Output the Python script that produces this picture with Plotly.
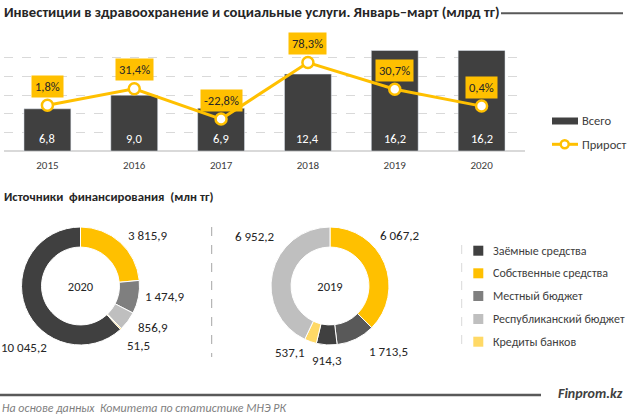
import plotly.graph_objects as go

W, H = 628, 417

# ---------------- data ----------------
years = ["2015", "2016", "2017", "2018", "2019", "2020"]
total_bln = [6.8, 9.0, 6.9, 12.4, 16.2, 16.2]
growth_pct = [1.8, 31.4, -22.8, 78.3, 30.7, 0.4]

legend_labels = ["Заёмные средства", "Собственные средства", "Местный бюджет",
                 "Республиканский бюджет", "Кредиты банков"]

labels_2020 = ["Заёмные средства", "Собственные средства", "Местный бюджет",
               "Республиканский бюджет", "Кредиты банков"]
values_2020 = [10045.2, 3815.9, 1474.9, 856.9, 51.5]

labels_2019 = ["Собственные средства", "Местный бюджет", "Заёмные средства",
               "Кредиты банков", "Республиканский бюджет"]
values_2019 = [6067.2, 1713.5, 914.3, 537.1, 6952.2]

# ---------------- styles ----------------
FONT = "Calibri, Carlito, 'Liberation Sans', Arial, sans-serif"
DARK = "#404040"
YEL = "#FFC000"
TXT = "#262626"
colors = {"Заёмные средства": "#404040", "Собственные средства": "#FFC000",
          "Местный бюджет": "#7F7F7F", "Республиканский бюджет": "#BFBFBF",
          "Кредиты банков": "#FFD966"}
colors_2019 = dict(colors)
colors_2019["Местный бюджет"] = "#595959"


def px_x(x):
    return x / W


def px_y(y):
    return 1 - y / H


def fmt(v):
    return f"{v:,.1f}".replace(",", " ").replace(".", ",")


def label(x, y, text, size, color=DARK, xanchor="left"):
    return dict(x=px_x(x), y=px_y(y), xref="paper", yref="paper", xanchor=xanchor,
                yanchor="middle", text=text, showarrow=False,
                font=dict(size=size, color=color, family=FONT))


fig = go.Figure()

fig.add_trace(go.Bar(x=years, y=total_bln, name="Всего", marker=dict(color=DARK),
                     width=0.54, hoverinfo="skip", showlegend=False))
fig.add_trace(go.Scatter(x=years, y=growth_pct, name="Прирост", yaxis="y2",
                         mode="lines+markers", line=dict(color=YEL, width=3),
                         marker=dict(size=11, color="white", line=dict(color=YEL, width=2.5)),
                         hoverinfo="skip", showlegend=False, cliponaxis=False))

# pies
fig.add_trace(go.Pie(labels=labels_2020, values=values_2020, hole=0.66, sort=False,
                     direction="clockwise",
                     rotation=360 - 360 * values_2020[0] / sum(values_2020),
                     marker=dict(colors=[colors[l] for l in labels_2020],
                                 line=dict(color="white", width=1)),
                     textinfo="none", hoverinfo="skip", showlegend=False,
                     title=dict(text="2020", position="middle center",
                                font=dict(size=12.5, color=TXT, family=FONT)),
                     domain=dict(x=[px_x(21.5), px_x(139.5)], y=[px_y(345), px_y(227)])))
fig.add_trace(go.Pie(labels=labels_2019, values=values_2019, hole=0.66, sort=False,
                     direction="clockwise", rotation=0,
                     marker=dict(colors=[colors_2019[l] for l in labels_2019],
                                 line=dict(color="white", width=1)),
                     textinfo="none", hoverinfo="skip", showlegend=False,
                     title=dict(text="2019", position="middle center",
                                font=dict(size=12.5, color=TXT, family=FONT)),
                     domain=dict(x=[px_x(271), px_x(389)], y=[px_y(345), px_y(227)])))

Y1_MAX = 18.05
ann = []
# bar value labels (x given as category index)
for i, v in enumerate(total_bln):
    ann.append(dict(x=i, y=0, xref="x", yref="y", yshift=13, text=fmt(v),
                    xanchor="center", yanchor="middle",
                    showarrow=False, font=dict(size=12.5, color="white", family=FONT)))
# growth labels
for i, g in enumerate(growth_pct):
    ann.append(dict(x=i, y=g, xref="x", yref="y2", yshift=19, text=fmt(g) + "%",
                    xanchor="center", yanchor="middle",
                    showarrow=False, bgcolor=YEL, borderpad=3,
                    font=dict(size=12.5, color=TXT, family=FONT)))

# donut labels (positions are style)
pos_2020 = [(24, 347), (147.5, 235.7), (164.7, 296.7), (152.5, 327.7), (138.3, 345.7)]
pos_2019 = [(400, 235.7), (388, 351.7), (326.7, 360.7), (290, 352.7), (255, 236.7)]
for v, (x, y) in zip(values_2020, pos_2020):
    ann.append(label(x, y, fmt(v), 13, TXT, "center"))
for v, (x, y) in zip(values_2019, pos_2019):
    ann.append(label(x, y, fmt(v), 13, TXT, "center"))

# titles
ann.append(label(2, 11.7, "<b>Инвестиции в здравоохранение и социальные услуги. Январь–март (млрд тг)</b>",
                 14.7, TXT))
ann.append(label(2, 196.7, "<b>Источники\u00a0 финансирования\u00a0 (млн тг)</b>", 12.8, TXT))
# footer
ann.append(label(625, 393.3, "<b><i>Finprom.kz</i></b>", 14, "#404040", "right"))
ann.append(label(0, 407.7, "<i>На основе данных  Комитета по статистике МНЭ РК</i>", 12, "#7F7F7F"))

# legends (drawn)
ann.append(label(580, 121, "Всего", 12.5))
ann.append(label(580, 144.3, "Прирост", 12.5))
leg_y = [250.7, 273.3, 296, 319, 341.7]
for lab, y in zip(legend_labels, leg_y):
    ann.append(label(490.5, y, lab, 12))

shapes = []
# title rule
shapes.append(dict(type="line", xref="paper", yref="paper", x0=px_x(501), x1=px_x(623),
                   y0=px_y(13.3), y1=px_y(13.3), line=dict(color="#595959", width=2)))
# footer rule
shapes.append(dict(type="line", xref="paper", yref="paper", x0=0, x1=px_x(541),
                   y0=px_y(395), y1=px_y(395), line=dict(color="#595959", width=2.5)))
# separators
shapes.append(dict(type="line", xref="paper", yref="paper", x0=px_x(211.7), x1=px_x(211.7),
                   y0=px_y(227), y1=px_y(357), line=dict(color="#A6A6A6", width=1, dash="dash")))
shapes.append(dict(type="line", xref="paper", yref="paper", x0=px_x(461.7), x1=px_x(461.7),
                   y0=px_y(245), y1=px_y(347), line=dict(color="#D9D9D9", width=1, dash="dash")))
# bar legend symbols
shapes.append(dict(type="rect", xref="paper", yref="paper", x0=px_x(552), x1=px_x(578),
                   y0=px_y(124.5), y1=px_y(117.5), fillcolor=DARK, line=dict(width=0)))
shapes.append(dict(type="line", xref="paper", yref="paper", x0=px_x(552), x1=px_x(578),
                   y0=px_y(144.3), y1=px_y(144.3), line=dict(color=YEL, width=3)))
shapes.append(dict(type="circle", xref="paper", yref="paper", x0=px_x(560.7), x1=px_x(568.7),
                   y0=px_y(148.3), y1=px_y(140.3), fillcolor="white", line=dict(color=YEL, width=2.5)))
for lab, y in zip(legend_labels, leg_y):
    shapes.append(dict(type="rect", xref="paper", yref="paper", x0=px_x(473.3), x1=px_x(483.3),
                       y0=px_y(y + 5), y1=px_y(y - 5), fillcolor=colors[lab], line=dict(width=0)))

fig.update_layout(
    width=W, height=H, margin=dict(l=0, r=0, t=0, b=0, autoexpand=False),
    paper_bgcolor="white", plot_bgcolor="white",
    font=dict(family=FONT, color=DARK),
    showlegend=False,
    xaxis=dict(domain=[px_x(4), px_x(525)], type="category", range=[-0.5, 5.5],
               autorange=False, showline=False, ticks="",
               showgrid=False, tickfont=dict(size=11, color=DARK, family=FONT),
               ticklabelstandoff=6, fixedrange=True),
    yaxis=dict(domain=[px_y(151), px_y(39.0)], range=[0, Y1_MAX], autorange=False, dtick=3,
               showgrid=True, gridcolor="#D9D9D9", griddash="dash", gridwidth=1,
               showticklabels=False, zeroline=True, zerolinecolor="#D9D9D9", zerolinewidth=1.5,
               fixedrange=True),
    yaxis2=dict(overlaying="y", range=[-80, -80 + Y1_MAX * 200 / 18], autorange=False,
                visible=False, showgrid=False, zeroline=False, fixedrange=True),
    annotations=ann, shapes=shapes,
)

fig.write_html("out.html", config={"displayModeBar": False},
               post_script="document.body.style.margin='0px';")
